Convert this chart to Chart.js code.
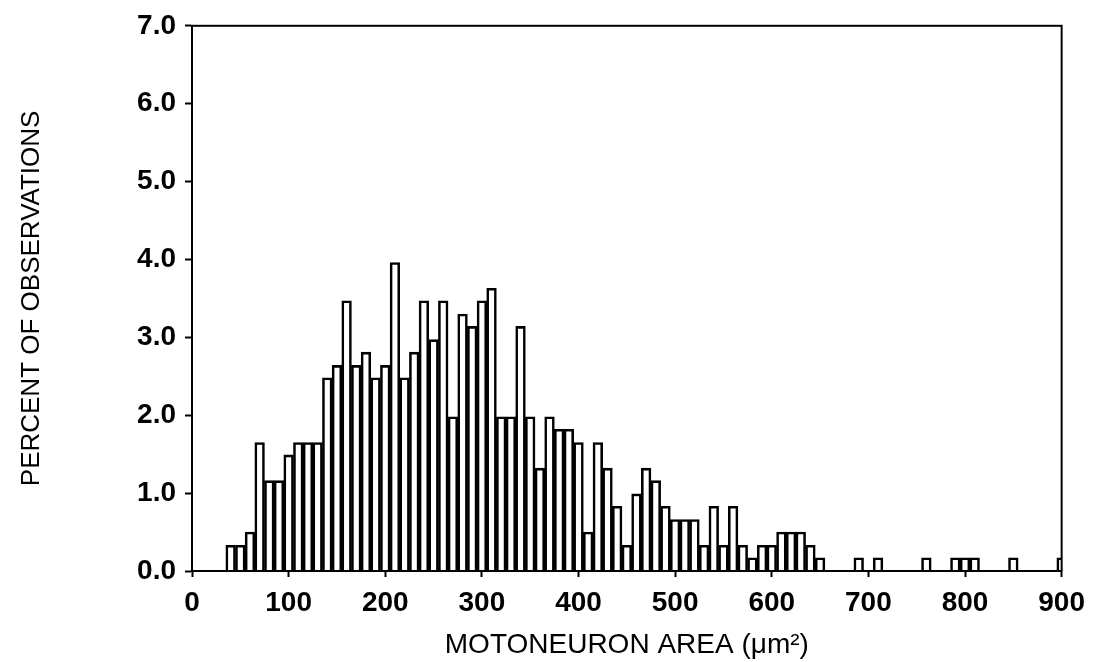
<!DOCTYPE html>
<html>
<head>
<meta charset="utf-8">
<script src="https://cdn.jsdelivr.net/npm/chart.js@4"></script>
<style>
  body { margin: 0; background: #fff; }
  #chart { display: block; }
</style>
</head>
<body>
<canvas id="chart" width="1094" height="662"></canvas>
<script>
// Centres des classes (µm²), largeur 10
const binCenters = [
  40, 50, 60, 70, 80, 90, 100, 110, 120, 130,
  140, 150, 160, 170, 180, 190, 200, 210, 220, 230,
  240, 250, 260, 270, 280, 290, 300, 310, 320, 330,
  340, 350, 360, 370, 380, 390, 400, 410, 420, 430,
  440, 450, 460, 470, 480, 490, 500, 510, 520, 530,
  540, 550, 560, 570, 580, 590, 600, 610, 620, 630,
  640, 650, 690, 710, 760, 790, 800, 810, 850, 900,
];
// Pourcentage des observations par classe
const percentValues = [
  0.33, 0.33, 0.50, 1.65, 1.16, 1.16, 1.49, 1.65, 1.65, 1.65,
  2.48, 2.64, 3.47, 2.64, 2.81, 2.48, 2.64, 3.96, 2.48, 2.81,
  3.47, 2.97, 3.47, 1.98, 3.30, 3.14, 3.47, 3.63, 1.98, 1.98,
  3.14, 1.98, 1.32, 1.98, 1.82, 1.82, 1.65, 0.50, 1.65, 1.32,
  0.83, 0.33, 0.99, 1.32, 1.16, 0.83, 0.66, 0.66, 0.66, 0.33,
  0.83, 0.33, 0.83, 0.33, 0.17, 0.33, 0.33, 0.50, 0.50, 0.50,
  0.33, 0.17, 0.17, 0.17, 0.17, 0.17, 0.17, 0.17, 0.17, 0.17,
];
const xTickMin = 0;
const xTickMax = 900;
const yTickMin = 0;
const yTickMax = 7;

const fontFamily = '"Liberation Sans", Arial, sans-serif';

// cadre complet autour de la zone du graphique
const framePlugin = {
  id: 'frame',
  afterDraw(chart) {
    const { ctx, chartArea } = chart;
    ctx.save();
    ctx.strokeStyle = '#000';
    ctx.lineWidth = 2;
    ctx.strokeRect(chartArea.left, chartArea.top, chartArea.right - chartArea.left, chartArea.bottom - chartArea.top);
    ctx.restore();
  },
};

const whiteBackground = {
  id: 'whiteBackground',
  beforeDraw(chart) {
    const { ctx } = chart;
    ctx.save();
    ctx.fillStyle = '#fff';
    ctx.fillRect(0, 0, chart.width, chart.height);
    ctx.restore();
  },
};

new Chart(document.getElementById('chart'), {
  type: 'bar',
  data: {
    datasets: [
      {
        data: binCenters.map((center, i) => ({ x: center, y: percentValues[i] })),
        backgroundColor: '#fff',
        borderColor: '#000',
        borderWidth: 2.6,
        barPercentage: 1,
        categoryPercentage: 1,
      },
    ],
  },
  options: {
    responsive: false,
    animation: false,
    devicePixelRatio: 1,
    layout: { padding: { top: 25, right: 32, left: 0, bottom: 0 } },
    plugins: {
      legend: { display: false },
      tooltip: { enabled: false },
    },
    scales: {
      x: {
        type: 'linear',
        min: xTickMin,
        max: xTickMax,
        offset: false,
        afterFit: (scale) => { scale.height = 91; },
        border: { color: '#000', width: 2 },
        grid: { offset: false, drawOnChartArea: false, tickLength: 6, color: '#000', tickWidth: 2 },
        ticks: {
          stepSize: 100,
          color: '#000',
          padding: 9,
          maxRotation: 0,
          font: { family: fontFamily, size: 28, weight: 'bold' },
        },
        title: {
          display: true,
          text: 'MOTONEURON AREA (\u03bcm\u00b2)',
          color: '#000',
          padding: { top: 0, bottom: 0 },
          font: { family: fontFamily, size: 28 },
        },
      },
      y: {
        min: yTickMin,
        max: yTickMax,
        afterFit: (scale) => { scale.width = 192; },
        border: { color: '#000', width: 2 },
        grid: { drawOnChartArea: false, tickLength: 7, color: '#000', tickWidth: 2 },
        ticks: {
          stepSize: 1,
          color: '#000',
          padding: 9,
          callback: (value) => value.toFixed(1),
          font: { family: fontFamily, size: 28, weight: 'bold' },
        },
        title: {
          display: true,
          text: 'PERCENT OF OBSERVATIONS',
          color: '#000',
          padding: { top: 16, bottom: 0 },
          font: { family: fontFamily, size: 26 },
        },
      },
    },
  },
  plugins: [whiteBackground, framePlugin],
});
</script>
</body>
</html>
